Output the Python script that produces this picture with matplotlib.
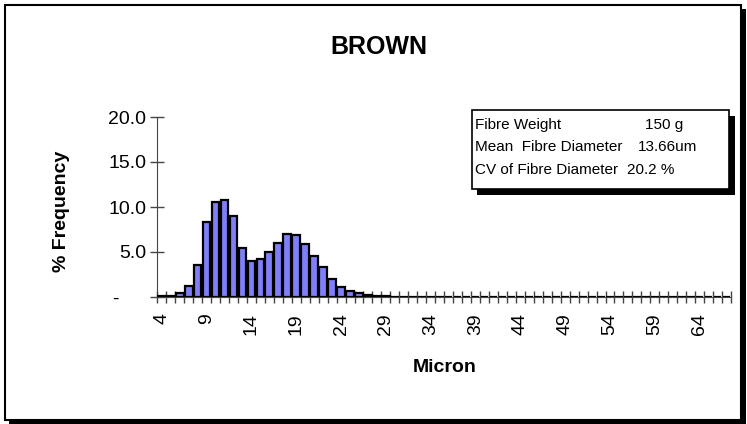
import matplotlib
matplotlib.use("Agg")
import matplotlib.pyplot as plt
from matplotlib.patches import Rectangle

plt.rcParams['font.family'] = ['Liberation Sans', 'DejaVu Sans']

# ---- data ----
microns = list(range(4, 68))
frequency = [0.1, 0.1, 0.4, 1.2, 3.6, 8.3, 10.6, 10.8, 9.0, 5.4,
             4.0, 4.25, 5.0, 6.0, 7.0, 6.9, 5.85, 4.55, 3.3, 2.0,
             1.15, 0.67, 0.42, 0.2, 0.1, 0.1, 0.05, 0.05, 0.0, 0.05] + [0.0] * 34
y_ticks = [0, 5, 10, 15, 20]
y_tick_labels = ['-     ', '5.0', '10.0', '15.0', '20.0']
title = 'BROWN'
x_label = 'Micron'
y_label = '% Frequency'
info_labels = ['Fibre Weight', 'Mean  Fibre Diameter', 'CV of Fibre Diameter']
info_values = ['150 g', '13.66um', '20.2 %']

W, H = 747, 424
fig = plt.figure(figsize=(W / 100, H / 100), dpi=100)

def fx(px):
    return px / W

def fy(py):
    return 1 - py / H

# outer frame with shadow
fig.patches.append(Rectangle((fx(9), fy(424)), fx(737), 4 / H, transform=fig.transFigure,
                             facecolor='black', edgecolor='none', zorder=-3))
fig.patches.append(Rectangle((fx(741), fy(424)), fx(5), 415 / H, transform=fig.transFigure,
                             facecolor='black', edgecolor='none', zorder=-3))
fig.patches.append(Rectangle((fx(5), fy(420)), fx(736), 415 / H, transform=fig.transFigure,
                             facecolor='white', edgecolor='black', linewidth=1.5, zorder=-2))

ax = fig.add_axes([fx(157.3), fy(297), fx(731 - 157.3), (297 - 117) / H])
ax.set_facecolor('none')
x = list(range(len(microns)))
ax.bar(x, frequency, width=0.86, color='#7F7FFA', edgecolor='black', linewidth=1.6, zorder=3)

ax.set_xlim(-0.5, len(microns) - 0.5)
ax.set_ylim(0, 20)
for s in ['top', 'right']:
    ax.spines[s].set_visible(False)
ax.spines['left'].set_color('#444444')
ax.spines['bottom'].set_color('#444444')

# boundary ticks (major), labels on minor ticks at centres
ax.set_xticks([i - 0.5 for i in range(len(microns) + 1)])
ax.set_xticklabels([])
ax.tick_params(axis='x', which='major', direction='inout', length=9, width=1, color='#444444')
lab_pos = [i for i, m in enumerate(microns) if (m - 4) % 5 == 0]
ax.set_xticks(lab_pos, minor=True)
ax.set_xticklabels([str(microns[i]) for i in lab_pos], minor=True, rotation=90,
                   fontsize=14, va='top', ha='center')
ax.tick_params(axis='x', which='minor', length=0, pad=11.5)

ax.set_yticks(y_ticks)
ax.set_yticklabels(y_tick_labels, fontsize=14)
ax.tick_params(axis='y', direction='inout', length=9.5, width=1, color='#444444', pad=3.2)

fig.text(fx(379), fy(47), title, fontsize=18, fontweight='bold', ha='center', va='center')
fig.text(fx(445), fy(367), x_label, fontsize=14, fontweight='bold', ha='center', va='center')
fig.text(fx(62), fy(211), y_label, fontsize=14, fontweight='bold', ha='center', va='center',
         rotation=90)

# info box with shadow
fig.patches.append(Rectangle((fx(477), fy(195)), fx(258), 79 / H, transform=fig.transFigure,
                             facecolor='black', edgecolor='none', zorder=1))
fig.patches.append(Rectangle((fx(472), fy(189)), fx(257), 79 / H, transform=fig.transFigure,
                             facecolor='white', edgecolor='black', linewidth=1.2, zorder=2))
line_y = [125, 147, 170]
val_x = [645, 638, 627]
for lbl, val, ly, vx in zip(info_labels, info_values, line_y, val_x):
    fig.text(fx(475), fy(ly), lbl, fontsize=11, ha='left', va='center', zorder=3)
    fig.text(fx(vx), fy(ly), val, fontsize=11, ha='left', va='center', zorder=3)

fig.savefig('out.png', dpi=100)
